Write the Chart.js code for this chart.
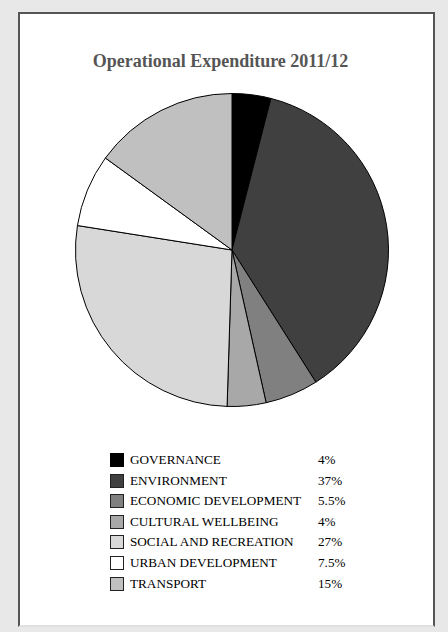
<!DOCTYPE html>
<html>
<head>
<meta charset="utf-8">
<script src="https://cdn.jsdelivr.net/npm/chart.js@4/dist/chart.umd.min.js"></script>
<style>
  html, body { background: #e8e8e8; }
  body { margin: 0; width: 448px; height: 632px; position: relative; overflow: hidden; font-family: "Liberation Serif", "DejaVu Serif", serif; }
  #paper { position: absolute; left: 18px; top: 12px; width: 413px; height: 611px; background: #fff; border: 2px solid #555; border-bottom-color: #e0e0e0; }
  #title { position: absolute; left: 0; width: 441px; top: 51px; text-align: center; font-weight: bold; font-size: 18px; color: #555; }
  #pieWrap { position: absolute; left: 75px; top: 93px; width: 314px; height: 314px; }
  #legend { position: absolute; left: 110px; top: 452px; }
  .row { position: relative; height: 20.6px; font-size: 13.2px; color: #000; }
  .sw { position: absolute; left: 0; top: 1px; width: 12px; height: 12px; border: 1.5px solid #222; }
  .lab { position: absolute; left: 20px; top: 0; white-space: nowrap; }
  .pct { position: absolute; left: 208px; top: 0; }
</style>
</head>
<body>
<div id="paper"></div>
<div id="title">Operational Expenditure 2011/12</div>
<div id="pieWrap"><canvas id="pieChart" width="314" height="314"></canvas></div>
<div id="legend"></div>
<script>
var categories = ['GOVERNANCE', 'ENVIRONMENT', 'ECONOMIC DEVELOPMENT', 'CULTURAL WELLBEING', 'SOCIAL AND RECREATION', 'URBAN DEVELOPMENT', 'TRANSPORT'];
var values = [4, 37, 5.5, 4, 27, 7.5, 15];
var valueLabels = ['4%', '37%', '5.5%', '4%', '27%', '7.5%', '15%'];
var colors = ['#000000', '#404040', '#808080', '#a8a8a8', '#d8d8d8', '#ffffff', '#c0c0c0'];

var pieCtx = document.getElementById('pieChart').getContext('2d');

function createChart(ctx, data, label) {
    return new Chart(ctx, {
        type: 'pie',
        data: {
            labels: label,
            datasets: [{
                data: data,
                backgroundColor: colors,
                borderColor: '#000',
                borderWidth: 1
            }]
        },
        options: {
            responsive: false,
            animation: false,
            layout: { padding: 0 },
            plugins: {
                legend: { display: false },
                tooltip: { enabled: false }
            }
        }
    });
}

createChart(pieCtx, values, categories);

// legend with the percentage column
var legend = document.getElementById('legend');
categories.forEach(function (name, i) {
    var row = document.createElement('div');
    row.className = 'row';
    var border = i === 0 ? '#000' : '#222';
    row.innerHTML = '<span class="sw" style="background:' + colors[i] + ';border-color:' + border + '"></span>' +
        '<span class="lab">' + name + '</span><span class="pct">' + valueLabels[i] + '</span>';
    legend.appendChild(row);
});
</script>
</body>
</html>
